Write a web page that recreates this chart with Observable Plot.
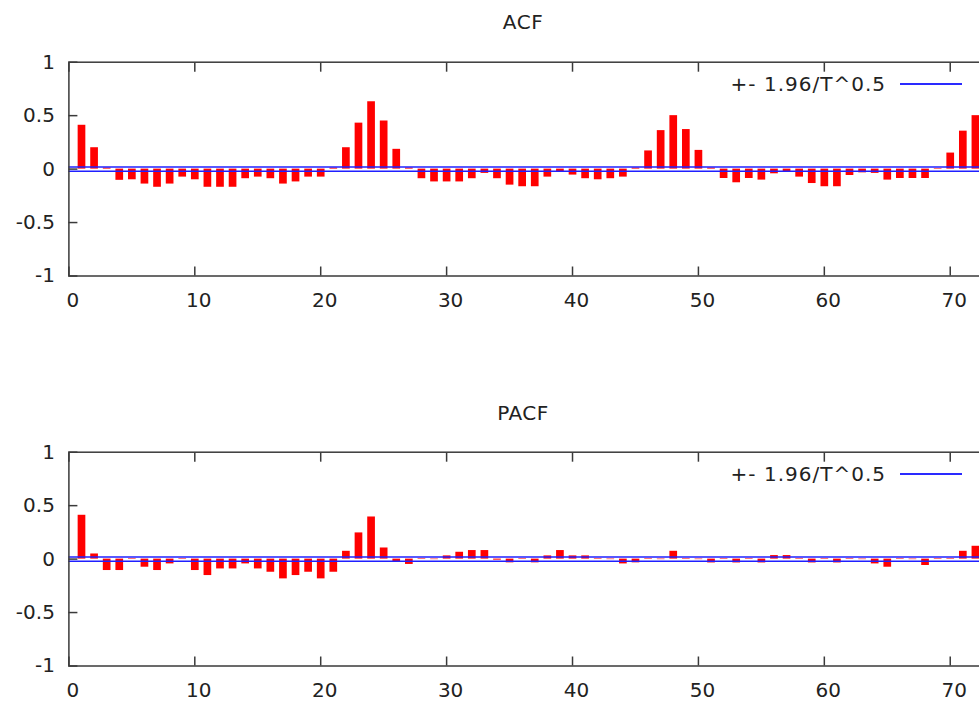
<!DOCTYPE html>
<html>
<head>
<meta charset="utf-8">
<script src="https://cdn.jsdelivr.net/npm/d3@7"></script>
<script src="https://cdn.jsdelivr.net/npm/@observablehq/plot@0.6"></script>
<style>
html, body { margin: 0; padding: 0; background: #fff; overflow: hidden; width: 979px; height: 701px; }
#root { position: relative; width: 979px; height: 701px; overflow: hidden; font-family: "DejaVu Sans", Verdana, sans-serif; color: #222; }
.title { position: absolute; left: 423px; width: 200px; text-align: center; font-size: 20px; line-height: 20px; letter-spacing: 0.5px; }
.panel { position: absolute; left: 0; max-width: none !important; }
.legend { position: absolute; font-size: 20px; line-height: 20px; letter-spacing: 1px; white-space: nowrap; }
.legline { position: absolute; height: 2px; background: #2a2aff; }
</style>
</head>
<body>
<div id="root"></div>
<script>
// ---- data ----
const xTicks = [0, 10, 20, 30, 40, 50, 60, 70];
const yTicks = [-1, -0.5, 0, 0.5, 1];
const band = 0.019; // 1.96/T^0.5
const legendLabel = "+- 1.96/T^0.5";

// ACF, lags 1..72
const acfValues = [
  0.41, 0.20, 0.01, -0.105, -0.10, -0.14, -0.17, -0.14, -0.075, -0.10,
  -0.17, -0.17, -0.17, -0.09, -0.075, -0.09, -0.14, -0.12, -0.075, -0.075,
  0.01, 0.20, 0.43, 0.63, 0.45, 0.185, 0.01, -0.09, -0.12, -0.12,
  -0.12, -0.09, -0.04, -0.09, -0.15, -0.165, -0.165, -0.075, -0.03, -0.056,
  -0.09, -0.10, -0.09, -0.075, 0.01, 0.17, 0.36, 0.50, 0.37, 0.175,
  0.01, -0.088, -0.128, -0.088, -0.103, -0.044, -0.03, -0.075, -0.135, -0.165,
  -0.165, -0.06, -0.035, -0.04, -0.103, -0.088, -0.088, -0.088, 0.005, 0.15,
  0.355, 0.50
];

// PACF, lags 1..72
const pacfValues = [
  0.41, 0.048, -0.107, -0.107, 0.005, -0.076, -0.107, -0.045, 0.005, -0.107,
  -0.154, -0.092, -0.092, -0.045, -0.092, -0.123, -0.185, -0.154, -0.123, -0.185,
  -0.123, 0.073, 0.245, 0.394, 0.104, -0.03, -0.05, 0.005, -0.005, 0.03,
  0.064, 0.08, 0.08, -0.01, -0.035, 0.005, -0.035, 0.03, 0.08, 0.03,
  0.03, 0.005, -0.005, -0.045, -0.035, 0.005, -0.005, 0.073, 0.005, -0.005,
  -0.036, 0.005, -0.036, 0.005, -0.036, 0.033, 0.033, 0.005, -0.036, 0.005,
  -0.036, 0.005, -0.005, -0.045, -0.076, 0.005, -0.005, -0.06, 0.005, 0.005,
  0.073, 0.12
];

const root = document.getElementById("root");

function addPanel(title, values, titleTop, svgTop, svgHeight) {
  const t = document.createElement("div");
  t.className = "title";
  t.style.top = titleTop + "px";
  t.textContent = title;
  root.appendChild(t);

  const data = values.map((v, i) => ({lag: i + 1, value: v}));
  const fmt = d => String(d);
  const marginTop = 21.7;
  const frameH = 213.8;
  const plot = Plot.plot({
    width: 1000,
    height: svgHeight,
    marginLeft: 68.4,
    marginRight: 12.5,
    marginTop: marginTop,
    marginBottom: svgHeight - marginTop - frameH,
    style: {fontFamily: "DejaVu Sans, Verdana, sans-serif", fontSize: "20px", color: "#222", background: "#fff", overflow: "visible"},
    x: {domain: [0, 73]},
    y: {domain: [-1, 1]},
    marks: [
      Plot.ruleX(data, {x: "lag", y1: 0, y2: "value", stroke: "#ff0000", strokeWidth: 7.7}),
      Plot.ruleY([band, -band], {stroke: "#1f1fff", strokeWidth: 1.5}),
      Plot.frame({stroke: "#3a3a3a", strokeWidth: 1.5}),
      Plot.axisY(yTicks, {anchor: "left", tickSize: 0, tickPadding: 14, tickFormat: fmt, label: null}),
      Plot.axisY(yTicks, {anchor: "left", tickSize: -9, fill: "none", stroke: "#3a3a3a", strokeWidth: 1.5, label: null}),
      Plot.axisY(yTicks, {anchor: "right", tickSize: -9, fill: "none", stroke: "#3a3a3a", strokeWidth: 1.5, label: null}),
      Plot.axisX(xTicks, {anchor: "bottom", tickSize: 0, tickPadding: 17, dx: 4, tickFormat: fmt, label: null}),
      Plot.axisX(xTicks, {anchor: "bottom", tickSize: -9, fill: "none", stroke: "#3a3a3a", strokeWidth: 1.5, label: null}),
      Plot.axisX(xTicks, {anchor: "top", tickSize: -9, fill: "none", stroke: "#3a3a3a", strokeWidth: 1.5, label: null})
    ]
  });
  plot.classList.add("panel");
  plot.style.maxWidth = "none";
  plot.style.width = "1000px";
  plot.style.height = svgHeight + "px";
  plot.style.top = svgTop + "px";
  root.appendChild(plot);

  // legend (key) inside the frame, top right
  const lg = document.createElement("div");
  lg.className = "legend";
  lg.textContent = legendLabel;
  lg.style.top = (svgTop + 34) + "px";
  lg.style.right = (979 - 886) + "px";
  root.appendChild(lg);
  const ln = document.createElement("div");
  ln.className = "legline";
  ln.style.top = (svgTop + 43) + "px";
  ln.style.left = "900px";
  ln.style.width = "62px";
  root.appendChild(ln);
}

addPanel("ACF", acfValues, 12, 40, 280);
addPanel("PACF", pacfValues, 403, 430, 271);
</script>
</body>
</html>
